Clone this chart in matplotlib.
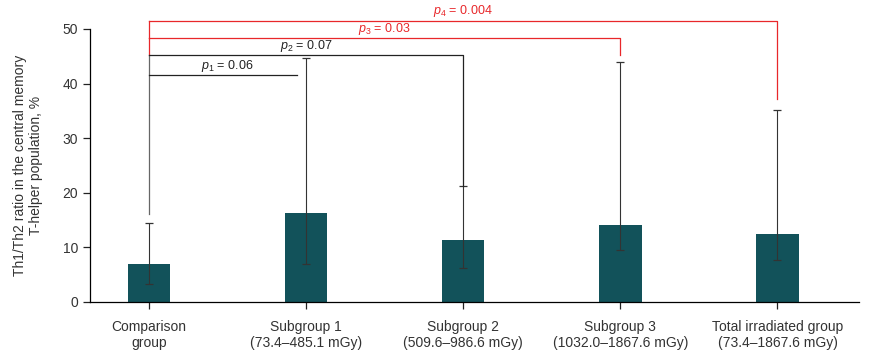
import matplotlib
matplotlib.use("Agg")
import matplotlib.pyplot as plt
import numpy as np

plt.rcParams['font.family'] = ['Liberation Sans', 'DejaVu Sans']
plt.rcParams['mathtext.fontset'] = 'custom'
plt.rcParams['mathtext.it'] = 'Liberation Sans:italic'
plt.rcParams['mathtext.rm'] = 'Liberation Sans'

categories = ["Comparison\ngroup", "Subgroup 1\n(73.4\u2013485.1 mGy)", "Subgroup 2\n(509.6\u2013986.6 mGy)",
              "Subgroup 3\n(1032.0\u20131867.6 mGy)", "Total irradiated group\n(73.4\u20131867.6 mGy)"]
means = [7.0, 16.3, 11.4, 14.1, 12.5]
err_low = [3.3, 7.0, 6.2, 9.5, 7.7]
err_high = [14.5, 44.6, 21.2, 43.9, 35.2]

# brackets
p_labels = ["$\\it{p}_{1}$ = 0.06", "$\\it{p}_{2}$ = 0.07", "$\\it{p}_{3}$ = 0.03", "$\\it{p}_{4}$ = 0.004"]
p_targets = [1, 2, 3, 4]
p_levels = [41.5, 45.2, 48.3, 51.5]
p_right_bottom = [None, 21.2, 45.2, 37.2]
p_colors = ["#222222", "#222222", "#e8272a", "#e8272a"]
comparison_leg_bottom = 16.1

fig = plt.figure(figsize=(8.74, 3.53), dpi=100)
ax = fig.add_axes([0.103, 0.1445, 0.880, 0.7735])

text_col = '#333333'
x = np.arange(len(categories))
bar_color = "#12525a"
ax.bar(x, means, width=0.27, color=bar_color, zorder=2)
lower = np.array(means) - np.array(err_low)
upper = np.array(err_high) - np.array(means)
ax.errorbar(x, means, yerr=[lower, upper], fmt='none', ecolor='#333333', elinewidth=0.8,
            capsize=2.6, capthick=0.9, zorder=3)

ax.plot([0, 0], [p_levels[3], p_levels[2]], color=p_colors[3], lw=0.9, clip_on=False, zorder=4)
ax.plot([0, 0], [p_levels[2], p_levels[1]], color=p_colors[2], lw=0.9, clip_on=False, zorder=4)
ax.plot([0, 0], [p_levels[1], comparison_leg_bottom], color='#666666', lw=0.9, clip_on=False, zorder=4)
for i in range(4):
    t = p_targets[i]
    lvl = p_levels[i]
    col = p_colors[i]
    if p_right_bottom[i] is None:
        xe = t - 0.06
        ax.plot([0, xe], [lvl, lvl], color=col, lw=0.9, clip_on=False, zorder=4)
    else:
        xe = t
        ax.plot([0, xe, xe], [lvl, lvl, p_right_bottom[i]], color=col, lw=0.9, clip_on=False, zorder=4)
    ax.text((0 + xe) / 2 + (0.03 if i == 0 else 0), lvl + 0.25, p_labels[i], ha='center', va='bottom',
            fontsize=9, color=col, clip_on=False)

ax.set_xlim(-0.376, 4.52)
ax.set_ylim(0, 50)
ax.set_yticks([0, 10, 20, 30, 40, 50])
ax.set_xticks(x)
ax.set_xticklabels(categories, fontsize=10, color=text_col, linespacing=1.15)
ax.tick_params(axis='y', labelsize=10, labelcolor=text_col, color='#222222', length=5, width=0.9)
ax.tick_params(axis='x', length=5, width=0.9, pad=8, color='#222222')
ax.spines['top'].set_visible(False)
ax.spines['right'].set_visible(False)
ax.spines['left'].set_linewidth(0.9)
ax.spines['bottom'].set_linewidth(0.9)
ax.set_ylabel("Th1/Th2 ratio in the central memory\nT-helper population, %", fontsize=10,
              color=text_col, labelpad=14, linespacing=1.15)

fig.savefig("out.png", dpi=100)
